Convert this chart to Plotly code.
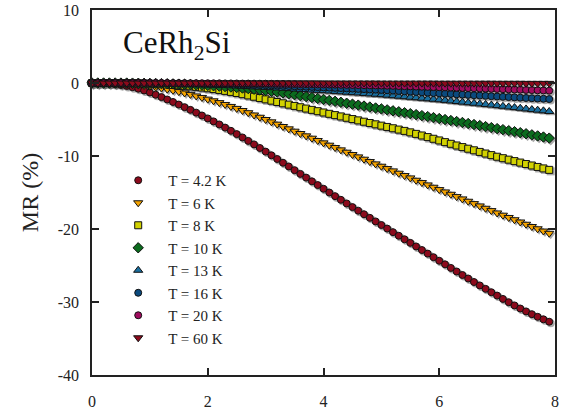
import plotly.graph_objects as go

# Magnetic field (T)
field = [round(i * 0.1, 1) for i in range(80)]

mr_4p2K = [0, -0.01, -0.03, -0.08, -0.16, -0.26, -0.40, -0.57, -0.78, -1.02,
           -1.30, -1.61, -1.93, -2.26, -2.60, -2.95, -3.31, -3.68, -4.06, -4.45,
           -4.85, -5.26, -5.68, -6.11, -6.55, -7.00, -7.46, -7.93, -8.41, -8.90,
           -9.40, -9.90, -10.41, -10.92, -11.43, -11.94, -12.45, -12.96, -13.47, -13.98,
           -14.49, -15.00, -15.50, -16.00, -16.50, -17.00, -17.49, -17.98, -18.47, -18.96,
           -19.45, -19.94, -20.43, -20.92, -21.41, -21.90, -22.39, -22.88, -23.37, -23.86,
           -24.35, -24.84, -25.33, -25.82, -26.30, -26.78, -27.26, -27.73, -28.20, -28.66,
           -29.12, -29.58, -30.03, -30.47, -30.89, -31.29, -31.67, -32.03, -32.37, -32.70]

mr_6K = [0, 0, -0.01, -0.03, -0.06, -0.10, -0.15, -0.21, -0.28, -0.36,
         -0.45, -0.57, -0.70, -0.85, -1.01, -1.18, -1.37, -1.56, -1.77, -1.98,
         -2.21, -2.44, -2.69, -2.94, -3.21, -3.48, -3.77, -4.07, -4.38, -4.69,
         -5.00, -5.32, -5.64, -5.96, -6.28, -6.60, -6.92, -7.24, -7.56, -7.88,
         -8.20, -8.52, -8.84, -9.16, -9.48, -9.80, -10.12, -10.44, -10.76, -11.08,
         -11.40, -11.72, -12.04, -12.36, -12.68, -13.00, -13.32, -13.64, -13.96, -14.28,
         -14.60, -14.92, -15.24, -15.56, -15.88, -16.20, -16.52, -16.84, -17.16, -17.48,
         -17.80, -18.11, -18.42, -18.73, -19.04, -19.35, -19.66, -19.97, -20.28, -20.59]

mr_8K = [0, 0, 0, 0, -0.01, -0.01, -0.02, -0.03, -0.05, -0.07,
         -0.10, -0.13, -0.17, -0.22, -0.27, -0.32, -0.38, -0.45, -0.53, -0.62,
         -0.72, -0.83, -0.95, -1.08, -1.22, -1.37, -1.53, -1.70, -1.88, -2.06,
         -2.24, -2.42, -2.60, -2.78, -2.96, -3.14, -3.32, -3.50, -3.68, -3.86,
         -4.04, -4.22, -4.40, -4.58, -4.76, -4.94, -5.12, -5.30, -5.48, -5.66,
         -5.84, -6.02, -6.20, -6.38, -6.56, -6.76, -6.97, -7.19, -7.41, -7.64,
         -7.87, -8.10, -8.33, -8.56, -8.78, -9.00, -9.22, -9.44, -9.66, -9.88,
         -10.10, -10.30, -10.50, -10.70, -10.90, -11.10, -11.30, -11.50, -11.70, -11.90]

mr_10K = [0, 0, 0, 0, 0, -0.01, -0.01, -0.02, -0.03, -0.04,
          -0.05, -0.06, -0.08, -0.10, -0.12, -0.15, -0.18, -0.21, -0.25, -0.29,
          -0.33, -0.38, -0.43, -0.49, -0.55, -0.62, -0.69, -0.77, -0.85, -0.94,
          -1.03, -1.13, -1.24, -1.36, -1.48, -1.60, -1.73, -1.86, -1.99, -2.12,
          -2.25, -2.38, -2.51, -2.64, -2.77, -2.90, -3.03, -3.16, -3.29, -3.42,
          -3.55, -3.68, -3.81, -3.94, -4.07, -4.20, -4.33, -4.47, -4.60, -4.74,
          -4.87, -5.01, -5.14, -5.28, -5.41, -5.55, -5.69, -5.83, -5.97, -6.11,
          -6.25, -6.39, -6.53, -6.67, -6.81, -6.95, -7.10, -7.25, -7.40, -7.55]

mr_13K = [0, 0, 0, 0, -0.01, -0.01, -0.02, -0.03, -0.04, -0.05,
          -0.06, -0.07, -0.09, -0.10, -0.12, -0.14, -0.16, -0.18, -0.20, -0.22,
          -0.25, -0.28, -0.31, -0.34, -0.37, -0.41, -0.45, -0.49, -0.53, -0.56,
          -0.60, -0.64, -0.68, -0.72, -0.77, -0.82, -0.86, -0.91, -0.96, -1.00,
          -1.05, -1.10, -1.15, -1.21, -1.26, -1.32, -1.37, -1.43, -1.49, -1.54,
          -1.60, -1.67, -1.74, -1.81, -1.88, -1.95, -2.02, -2.09, -2.16, -2.23,
          -2.30, -2.38, -2.46, -2.54, -2.62, -2.70, -2.78, -2.86, -2.94, -3.02,
          -3.10, -3.19, -3.28, -3.37, -3.46, -3.55, -3.64, -3.72, -3.81, -3.90]

mr_16K = [0, 0, 0, 0, 0, 0, -0.01, -0.01, -0.02, -0.02,
          -0.03, -0.04, -0.04, -0.05, -0.06, -0.07, -0.08, -0.09, -0.10, -0.11,
          -0.12, -0.14, -0.15, -0.17, -0.19, -0.20, -0.22, -0.24, -0.26, -0.28,
          -0.30, -0.33, -0.36, -0.39, -0.42, -0.45, -0.48, -0.51, -0.54, -0.57,
          -0.60, -0.63, -0.67, -0.70, -0.74, -0.77, -0.81, -0.84, -0.88, -0.91,
          -0.95, -0.99, -1.04, -1.09, -1.14, -1.18, -1.23, -1.28, -1.32, -1.37,
          -1.42, -1.46, -1.50, -1.55, -1.59, -1.63, -1.68, -1.72, -1.76, -1.81,
          -1.85, -1.89, -1.93, -1.97, -2.01, -2.05, -2.09, -2.13, -2.16, -2.20]

mr_20K = [0, 0, 0, 0, 0, 0, 0, 0, 0, 0,
          -0.01, -0.01, -0.01, -0.01, -0.02, -0.02, -0.02, -0.03, -0.03, -0.04,
          -0.04, -0.05, -0.05, -0.06, -0.06, -0.07, -0.08, -0.08, -0.09, -0.10,
          -0.10, -0.11, -0.12, -0.13, -0.14, -0.15, -0.16, -0.17, -0.18, -0.19,
          -0.20, -0.21, -0.22, -0.24, -0.25, -0.27, -0.29, -0.30, -0.32, -0.33,
          -0.35, -0.37, -0.39, -0.42, -0.44, -0.46, -0.49, -0.51, -0.53, -0.56,
          -0.58, -0.60, -0.63, -0.65, -0.68, -0.70, -0.72, -0.75, -0.77, -0.80,
          -0.82, -0.85, -0.87, -0.90, -0.92, -0.95, -0.97, -1.00, -1.02, -1.05]

mr_60K = [0] * 40 + [-0.01] * 10 + [-0.02] * 10 + [-0.03] * 10 + [-0.04] * 5 + [-0.05] * 5

series_names = ["T = 4.2 K", "T = 6 K", "T = 8 K", "T = 10 K",
                "T = 13 K", "T = 16 K", "T = 20 K", "T = 60 K"]
series_values = [mr_4p2K, mr_6K, mr_8K, mr_10K, mr_13K, mr_16K, mr_20K, mr_60K]
colors = ["#8c0a1c", "#f4a300", "#d2d200", "#0b6b1e",
          "#1a6f9f", "#0b4a7e", "#a00c5e", "#8c0a1c"]
symbols = ["circle", "triangle-down", "square", "diamond",
           "triangle-up", "circle", "circle", "triangle-down"]
sizes = [7, 8, 7, 8, 8, 7, 7, 8]

x_range = [0, 8]
y_range = [-40, 10]
x_ticks = [0, 2, 4, 6, 8]
x_ticktext = ["0", "2", "4", "6", "8"]
y_ticks = [10, 0, -10, -20, -30, -40]
y_ticktext = ["10", "0", "-10", "-20", "-30", "-40"]

# plot-area geometry (pixels) used to offset the drop shadow by ~1.5 px
W, H = 567, 410
ML, MR, MT, MB = 92, 12, 10, 35
shadow_px = 1.5
dx = shadow_px * (x_range[1] - x_range[0]) / (W - ML - MR)
dy = shadow_px * (y_range[1] - y_range[0]) / (H - MT - MB)

fig = go.Figure()
# empty trace so the framed main axes are drawn
fig.add_trace(go.Scatter(x=[], y=[], mode="markers", showlegend=False,
                         hoverinfo="skip"))
# drop shadows (on hidden overlay axes shifted by a pixel or two)
for i, vals in enumerate(series_values):
    fig.add_trace(go.Scatter(
        x=field, y=vals, mode="markers", showlegend=False, hoverinfo="skip",
        xaxis="x2", yaxis="y2",
        marker=dict(symbol=symbols[i], size=sizes[i] + 1,
                    color="rgba(100,100,100,0.55)", line=dict(width=0)),
        cliponaxis=False,
    ))
# data markers
for i, (name, vals) in enumerate(zip(series_names, series_values)):
    fig.add_trace(go.Scatter(
        x=field, y=vals, name=name, mode="markers",
        xaxis="x3", yaxis="y3",
        marker=dict(symbol=symbols[i], size=sizes[i], color=colors[i],
                    line=dict(color="#111111", width=1)),
        cliponaxis=False,
    ))

font_family = "Times New Roman, Liberation Serif, serif"
hidden = dict(visible=False, showgrid=False, zeroline=False, fixedrange=True)
fig.update_layout(
    width=W, height=H,
    margin=dict(l=ML, r=MR, t=MT, b=MB, autoexpand=False),
    paper_bgcolor="white", plot_bgcolor="white",
    font=dict(family=font_family, color="#222222", size=16),
    showlegend=True,
    legend=dict(
        x=0.035, y=0.578, xanchor="left", yanchor="top",
        bgcolor="rgba(0,0,0,0)", borderwidth=0,
        font=dict(family=font_family, size=15, color="#222222"),
        itemwidth=50, traceorder="normal",
    ),
    xaxis=dict(
        range=x_range, tickvals=x_ticks, ticktext=x_ticktext,
        ticks="inside", ticklen=7,
        tickwidth=1.5, tickcolor="#222222", automargin=False,
        showline=True, linecolor="#222222", linewidth=1.5, mirror="ticks",
        showgrid=False, zeroline=False,
        tickfont=dict(size=16, family=font_family),
        ticklabelstandoff=11,
    ),
    yaxis=dict(
        range=y_range, tickvals=y_ticks, ticktext=y_ticktext,
        ticks="inside", ticklen=7,
        tickwidth=1.5, tickcolor="#222222", automargin=False,
        showline=True, linecolor="#222222", linewidth=1.5, mirror="ticks",
        showgrid=False, zeroline=False,
        tickfont=dict(size=16, family=font_family),
        ticklabelstandoff=8,
        title=dict(text="MR (%)", font=dict(size=24, family=font_family), standoff=12),
    ),
    xaxis2=dict(overlaying="x", range=[x_range[0] - dx, x_range[1] - dx], **hidden),
    yaxis2=dict(overlaying="y", range=[y_range[0] + dy, y_range[1] + dy], **hidden),
    xaxis3=dict(overlaying="x", range=x_range, **hidden),
    yaxis3=dict(overlaying="y", range=y_range, **hidden),
    annotations=[dict(
        text="CeRh<sub>2</sub>Si", xref="paper", yref="paper",
        x=0.062, y=0.965, xanchor="left", yanchor="top", showarrow=False,
        font=dict(family=font_family, size=31, color="#111111"),
    )],
)

fig.write_html("out.html")
